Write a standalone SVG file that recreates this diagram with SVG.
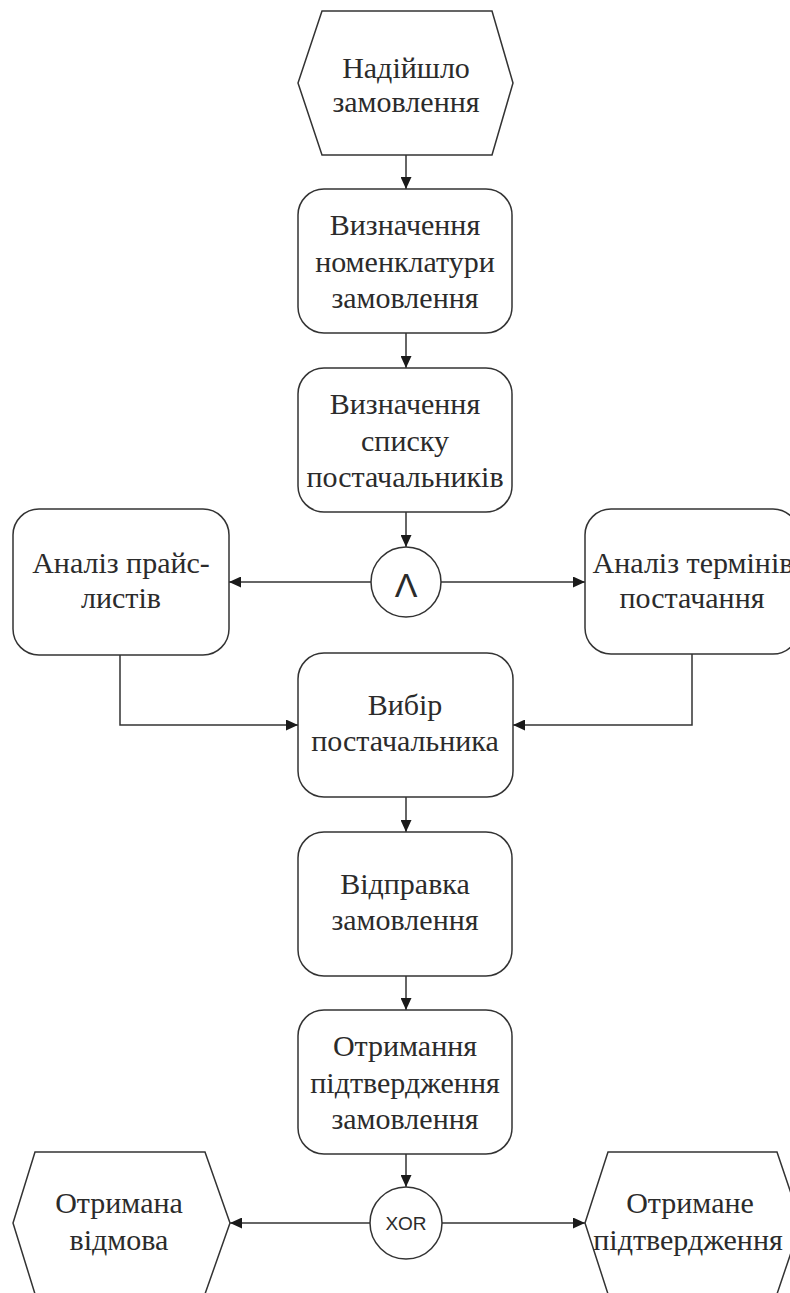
<svg xmlns="http://www.w3.org/2000/svg" width="790" height="1293" viewBox="0 0 790 1293">
  <style>
    .shape { fill: #ffffff; stroke: #333333; stroke-width: 1.5; }
    .edge { fill: none; stroke: #333333; stroke-width: 1.5; }
    .lbl { font-size: 30px; fill: #2b2b2b; text-anchor: middle; }
    .gate { fill: #2b2b2b; text-anchor: middle; }
  </style>
  <defs>
    <marker id="arrow" markerUnits="userSpaceOnUse" markerWidth="13" markerHeight="11" refX="12" refY="5.5" orient="auto">
      <path d="M0,0 L12,5.5 L0,11 z" fill="#1a1a1a"/>
    </marker>
  </defs>
  <rect width="790" height="1293" fill="#ffffff"/>

  <!-- connectors -->
  <g id="connectors" class="edge" marker-end="url(#arrow)">
    <path d="M406,155 V189"/>
    <path d="M406,333 V368"/>
    <path d="M406,512 V547"/>
    <path d="M372,582 H229"/>
    <path d="M441,582 H585"/>
    <path d="M120,655 V725 H298"/>
    <path d="M692,654 V725 H513"/>
    <path d="M406,797 V832"/>
    <path d="M406,976 V1010"/>
    <path d="M406,1154 V1187"/>
    <path d="M370,1223 H230"/>
    <path d="M442,1223 H585"/>
  </g>

  <g id="nodes" font-family="Liberation Serif, Times New Roman, serif">
    <!-- start event -->
    <g id="order-received">
      <polygon class="shape" points="322,11 492,11 513,83 492,155 322,155 298,83"/>
      <text class="lbl" x="406" y="78">Надійшло</text>
      <text class="lbl" x="406" y="112">замовлення</text>
    </g>

    <g id="define-nomenclature">
      <rect class="shape" x="298" y="189" width="214" height="144" rx="26"/>
      <text class="lbl" x="405" y="235">Визначення</text>
      <text class="lbl" x="405" y="272">номенклатури</text>
      <text class="lbl" x="405" y="308">замовлення</text>
    </g>

    <g id="define-suppliers">
      <rect class="shape" x="298" y="368" width="214" height="144" rx="26"/>
      <text class="lbl" x="405" y="414">Визначення</text>
      <text class="lbl" x="405" y="451">списку</text>
      <text class="lbl" x="405" y="487">постачальників</text>
    </g>

    <g id="and-gate" font-family="Liberation Sans, Arial, sans-serif">
      <circle class="shape" cx="406" cy="582" r="35"/>
      <text class="gate" x="406" y="597" font-size="34">Λ</text>
    </g>

    <g id="price-analysis">
      <rect class="shape" x="13" y="509" width="216" height="146" rx="26"/>
      <text class="lbl" x="121" y="573">Аналіз прайс-</text>
      <text class="lbl" x="121" y="608">листів</text>
    </g>

    <g id="terms-analysis">
      <rect class="shape" x="585" y="509" width="214" height="145" rx="26"/>
      <text class="lbl" x="693" y="573">Аналіз термінів</text>
      <text class="lbl" x="692" y="608">постачання</text>
    </g>

    <g id="choose-supplier">
      <rect class="shape" x="298" y="653" width="215" height="144" rx="26"/>
      <text class="lbl" x="405" y="715">Вибір</text>
      <text class="lbl" x="405" y="751">постачальника</text>
    </g>

    <g id="send-order">
      <rect class="shape" x="298" y="832" width="214" height="144" rx="26"/>
      <text class="lbl" x="405" y="894">Відправка</text>
      <text class="lbl" x="405" y="930">замовлення</text>
    </g>

    <g id="get-confirmation">
      <rect class="shape" x="298" y="1010" width="214" height="144" rx="26"/>
      <text class="lbl" x="405" y="1056">Отримання</text>
      <text class="lbl" x="405" y="1093">підтвердження</text>
      <text class="lbl" x="405" y="1129">замовлення</text>
    </g>

    <g id="xor-gate" font-family="Liberation Sans, Arial, sans-serif">
      <circle class="shape" cx="406" cy="1223" r="36"/>
      <text class="gate" x="406" y="1230" font-size="19">XOR</text>
    </g>

    <!-- end events -->
    <g id="refusal-received">
      <polygon class="shape" points="35,1152 205,1152 230,1223 205,1294 35,1294 13,1223"/>
      <text class="lbl" x="119" y="1213">Отримана</text>
      <text class="lbl" x="119" y="1250">відмова</text>
    </g>

    <g id="confirmation-received">
      <polygon class="shape" points="608,1152 777,1152 801,1223 777,1294 608,1294 585,1223"/>
      <text class="lbl" x="690" y="1213">Отримане</text>
      <text class="lbl" x="688" y="1250">підтвердження</text>
    </g>
  </g>
</svg>
